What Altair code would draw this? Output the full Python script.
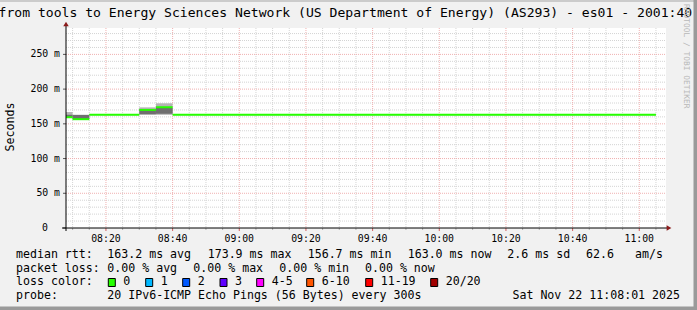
import altair as alt
import pandas as pd

# ---------------- data ----------------
seg_start = ["08:08:01", "08:10", "08:15", "08:30", "08:35", "08:40"]
seg_end = ["08:10", "08:15", "08:30", "08:35", "08:40", "11:05"]
median_ms = [159.5, 156.7, 163.2, 170.0, 173.9, 163.0]
smoke_lo = [158.5, 156.4, 162.4, 162.8, 163.0, 162.4]
smoke_hi = [167.0, 163.0, 164.0, 173.7, 179.6, 163.6]
core_lo = [159.5, 156.8, 162.8, 164.0, 164.5, 162.8]
core_hi = [163.0, 162.8, 163.6, 171.0, 173.0, 163.4]

x_tick_labels = ["08:20", "08:40", "09:00", "09:20", "09:40",
                 "10:00", "10:20", "10:40", "11:00"]
y_tick_values = [0, 50, 100, 150, 200, 250]
y_tick_labels = ["0", "50 m", "100 m", "150 m", "200 m", "250 m"]

title_text = ("from tools to Energy Sciences Network (US Department of Energy)"
              " (AS293) - es01 - 2001:40")
y_title = "Seconds"
rtt_items = ["median rtt:", "163.2 ms avg", "173.9 ms max", "156.7 ms min",
             "163.0 ms now", "2.6 ms sd", "62.6", "am/s"]
loss_items = ["packet loss:", "0.00 % avg", "0.00 % max", "0.00 % min", "0.00 % now"]
loss_color_title = "loss color:"
loss_labels = ["0", "1", "2", "3", "4-5", "6-10", "11-19", "20/20"]
loss_colors = ["#26ff00", "#00b8ff", "#0059ff", "#5e00ff",
               "#ff00fe", "#ff5500", "#ff0000", "#a10000"]
probe_items = ["probe:", "20 IPv6-ICMP Echo Pings (56 Bytes) every 300s"]
stamp_text = "Sat Nov 22 11:08:01 2025"
watermark = "RRDTOOL / TOBI OETIKER"

# ---------------- layout ----------------
LEFT, TOP, W, H = 66, 28, 600, 200
TOTAL_W, TOTAL_H = 697, 310
FONT = "DejaVu Sans Mono"


def to_min(s):
    parts = [int(p) for p in s.split(":")]
    while len(parts) < 3:
        parts.append(0)
    return parts[0] * 60 + parts[1] + parts[2] / 60.0


t0 = to_min("08:08:01")
t1 = to_min("11:08:01")
xscale = alt.Scale(domain=[t0, t1], nice=False, zero=False)
yscale = alt.Scale(domain=[0, 288], nice=False, zero=False)

seg = pd.DataFrame({
    "s": [to_min(v) for v in seg_start],
    "e": [to_min(v) for v in seg_end],
    "med": median_ms, "lo": smoke_lo, "hi": smoke_hi,
    "clo": core_lo, "chi": core_hi,
})

# grid values
major_x = [to_min(v) for v in x_tick_labels]
minor_x = [m for m in range(490, int(t1), 5) if m not in [int(v) for v in major_x]]
major_y = [50, 100, 150, 200, 250]
minor_y = [v for v in range(10, 288, 10) if v % 50 != 0]

GRID_MINOR = "#d4d4d4"
GRID_MAJOR = "#f0b0b0"

vminor = alt.Chart(pd.DataFrame({"m": minor_x})).mark_rule(
    color=GRID_MINOR, strokeDash=[1, 1], strokeWidth=1
).encode(x=alt.X("m:Q", scale=xscale, axis=None), y=alt.value(0), y2=alt.value(H))
vmajor = alt.Chart(pd.DataFrame({"m": major_x})).mark_rule(
    color=GRID_MAJOR, strokeDash=[1, 1], strokeWidth=1
).encode(x=alt.X("m:Q", scale=xscale, axis=None), y=alt.value(0), y2=alt.value(H))
hminor = alt.Chart(pd.DataFrame({"v": minor_y})).mark_rule(
    color=GRID_MINOR, strokeDash=[1, 1], strokeWidth=1
).encode(y=alt.Y("v:Q", scale=yscale, axis=None), x=alt.value(0), x2=alt.value(W))
hmajor = alt.Chart(pd.DataFrame({"v": major_y})).mark_rule(
    color=GRID_MAJOR, strokeDash=[1, 1], strokeWidth=1
).encode(y=alt.Y("v:Q", scale=yscale, axis=None), x=alt.value(0), x2=alt.value(W))

# ticks on axes
xt_major = alt.Chart(pd.DataFrame({"m": major_x})).mark_rule(color="#d06060").encode(
    x=alt.X("m:Q", scale=xscale, axis=None), y=alt.value(H), y2=alt.value(H + 3))
xt_minor = alt.Chart(pd.DataFrame({"m": minor_x})).mark_rule(color="#b0b0b0").encode(
    x=alt.X("m:Q", scale=xscale, axis=None), y=alt.value(H), y2=alt.value(H + 2))
yt_major = alt.Chart(pd.DataFrame({"v": y_tick_values})).mark_rule(color="#555555").encode(
    y=alt.Y("v:Q", scale=yscale, axis=None), x=alt.value(-3), x2=alt.value(0))

# smoke + median
smoke = alt.Chart(seg).mark_rect(color="#b4b4b4").encode(
    x=alt.X("s:Q", scale=xscale, axis=None), x2="e:Q",
    y=alt.Y("lo:Q", scale=yscale, axis=None), y2="hi:Q")
core = alt.Chart(seg).mark_rect(color="#6f6f6f").encode(
    x=alt.X("s:Q", scale=xscale, axis=None), x2="e:Q",
    y=alt.Y("clo:Q", scale=yscale, axis=None), y2="chi:Q")
median = alt.Chart(seg).mark_rule(color="#26ff00", strokeWidth=2).encode(
    x=alt.X("s:Q", scale=xscale, axis=None), x2="e:Q",
    y=alt.Y("med:Q", scale=yscale, axis=None))

# axis lines and arrows
xaxis = alt.Chart(pd.DataFrame({"a": [0]})).mark_rule(color="black").encode(
    x=alt.value(-4), x2=alt.value(W + 1), y=alt.value(H))
yaxis = alt.Chart(pd.DataFrame({"a": [0]})).mark_rule(color="black").encode(
    y=alt.value(-3), y2=alt.value(H + 3), x=alt.value(0))
arrow_r = alt.Chart(pd.DataFrame({"a": [0]})).mark_point(
    shape="triangle-right", filled=True, color="#8b1a1a", size=30, opacity=1
).encode(x=alt.value(W + 3), y=alt.value(H))
arrow_u = alt.Chart(pd.DataFrame({"a": [0]})).mark_point(
    shape="triangle-up", filled=True, color="#8b1a1a", size=30, opacity=1
).encode(x=alt.value(0), y=alt.value(-4))

# axis labels
xlab = alt.Chart(pd.DataFrame({"m": major_x, "t": x_tick_labels})).mark_text(
    font=FONT, fontSize=9.8, baseline="middle", align="center", color="black"
).encode(x=alt.X("m:Q", scale=xscale, axis=None), y=alt.value(H + 10.5), text="t:N")
ylab_df = pd.DataFrame({"v": y_tick_values, "t": y_tick_labels})
ylab = alt.Chart(ylab_df[ylab_df.v > 0]).mark_text(
    font=FONT, fontSize=9.8, baseline="middle", align="right", color="black"
).encode(y=alt.Y("v:Q", scale=yscale, axis=None), x=alt.value(-6), text="t:N")
ylab0 = alt.Chart(ylab_df[ylab_df.v == 0]).mark_text(
    font=FONT, fontSize=9.8, baseline="middle", align="right", color="black"
).encode(y=alt.Y("v:Q", scale=yscale, axis=None), x=alt.value(-18), text="t:N")


def abs_text(items, xs, y, size=11.6, align="left", color="black", angle=0,
             baseline="middle"):
    df = pd.DataFrame({"t": items, "px": [x - LEFT for x in xs],
                       "py": [y - TOP] * len(items)})
    kw = dict(font=FONT, fontSize=size, align=align, baseline=baseline, color=color)
    if angle:
        kw["angle"] = angle
    return alt.Chart(df).mark_text(**kw).encode(
        x=alt.X("px:Q", scale=None), y=alt.Y("py:Q", scale=None), text="t:N")


title = abs_text([title_text], [-1.5], 13, size=13.1)
ytitle = abs_text([y_title], [11], 127, size=11.6, align="center", angle=270)
wm = abs_text([watermark], [686], 4, size=7.9, color="#b8b8b8", angle=90)

row1 = abs_text(rtt_items, [16, 107.3, 207.7, 307.7, 407.7, 507.3, 586, 635], 255)
row2 = abs_text(loss_items, [16, 107.3, 193.3, 279.3, 365], 268.5)
row3 = abs_text([loss_color_title], [16], 282.3)
box_x = [108.3, 145.7, 182.7, 220, 256.7, 306.7, 365.7, 430.7]
row3_labels = abs_text(loss_labels, [b + 15 for b in box_x], 282.3)
boxes_df = pd.DataFrame({"lab": loss_labels,
                         "x1": [b - LEFT for b in box_x],
                         "x2": [b + 7 - LEFT for b in box_x],
                         "y1": [278.5 - TOP] * len(box_x),
                         "y2": [286.5 - TOP] * len(box_x)})
boxes = alt.Chart(boxes_df).mark_rect(stroke="black", strokeWidth=1).encode(
    x=alt.X("x1:Q", scale=None), x2="x2:Q",
    y=alt.Y("y1:Q", scale=None), y2="y2:Q",
    color=alt.Color("lab:N", scale=alt.Scale(domain=loss_labels, range=loss_colors),
                    legend=None))
row4 = abs_text(probe_items, [16, 107.3], 296)
stamp = abs_text([stamp_text], [680], 296, align="right")

# frame shading
frame_df = pd.DataFrame({
    "x1": [-LEFT, TOTAL_W - 3.5 - LEFT, -LEFT],
    "x2": [TOTAL_W - LEFT, TOTAL_W - LEFT, TOTAL_W - LEFT],
    "y1": [-TOP, -TOP, TOTAL_H - 3.5 - TOP],
    "y2": [2 - TOP, TOTAL_H - TOP, TOTAL_H - TOP],
    "c": ["a", "b", "b"],
})
frame = alt.Chart(frame_df).mark_rect().encode(
    x=alt.X("x1:Q", scale=None), x2="x2:Q",
    y=alt.Y("y1:Q", scale=None), y2="y2:Q",
    color=alt.Color("c:N", scale=alt.Scale(domain=["a", "b"],
                                            range=["#cbcbcb", "#9a9a9a"]),
                    legend=None))

chart = alt.layer(
    vminor, hminor, vmajor, hmajor,
    smoke, core, median,
    xt_minor, xt_major, yt_major,
    xaxis, yaxis, arrow_r, arrow_u,
    xlab, ylab, ylab0,
    title, ytitle, wm,
    row1, row2, row3, boxes, row3_labels, row4, stamp,
    frame,
).resolve_scale(color="independent").properties(
    width=W, height=H,
    autosize="none",
    padding={"left": LEFT, "top": TOP, "right": TOTAL_W - LEFT - W,
             "bottom": TOTAL_H - TOP - H},
).configure(background="#f1f1f1").configure_view(fill="white", strokeWidth=0)

chart.save("out.html", embed_options={"renderer": "svg", "actions": False})
